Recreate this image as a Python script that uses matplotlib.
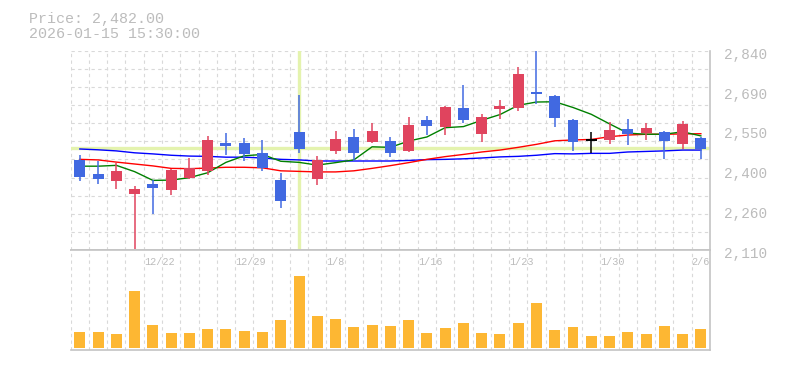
import numpy as np
import matplotlib
matplotlib.use("Agg")
import matplotlib.pyplot as plt
from matplotlib.transforms import ScaledTranslation, blended_transform_factory

# ---------------- data ----------------
dates = ["12/16", "12/17", "12/18", "12/19", "12/22", "12/23", "12/24", "12/25", "12/26",
         "12/29", "12/30", "1/5", "1/6", "1/7", "1/8", "1/9", "1/13", "1/14", "1/15",
         "1/16", "1/19", "1/20", "1/21", "1/22", "1/23", "1/26", "1/27", "1/28", "1/29",
         "1/30", "2/2", "2/3", "2/4", "2/5", "2/6"]
label_dates = ["12/22", "12/29", "1/8", "1/16", "1/23", "1/30", "2/6"]

opens = [2440, 2388, 2364, 2316, 2352, 2330, 2375, 2400, 2502, 2502, 2465, 2366, 2542,
         2371, 2474, 2524, 2507, 2509, 2474, 2586, 2561, 2630, 2536, 2628, 2631, 2689,
         2674, 2586, 2514, 2513, 2553, 2539, 2543, 2498, 2520]
highs = [2458, 2437, 2428, 2344, 2366, 2405, 2447, 2528, 2538, 2520, 2513, 2391, 2678,
         2454, 2546, 2553, 2575, 2524, 2597, 2601, 2638, 2714, 2608, 2659, 2781, 2840,
         2676, 2589, 2542, 2580, 2589, 2574, 2547, 2583, 2525]
lows = [2364, 2352, 2335, 2112, 2243, 2311, 2371, 2386, 2459, 2437, 2400, 2265, 2466,
        2349, 2463, 2437, 2503, 2452, 2470, 2531, 2532, 2575, 2507, 2591, 2620, 2644,
        2562, 2474, 2464, 2499, 2495, 2513, 2444, 2480, 2443]
closes = [2378, 2371, 2399, 2333, 2338, 2403, 2410, 2513, 2492, 2463, 2411, 2291, 2481,
          2439, 2517, 2466, 2546, 2466, 2568, 2564, 2634, 2586, 2597, 2637, 2755, 2683,
          2595, 2507, 2514, 2550, 2536, 2557, 2509, 2572, 2480]
volumes = [163, 163, 140, 563, 230, 153, 153, 193, 193, 173, 163, 273, 713, 313, 283,
           213, 230, 220, 273, 153, 203, 253, 153, 143, 253, 443, 183, 213, 123, 123,
           163, 143, 223, 143, 193]

ma_short = [2417, 2417, 2420, 2397, 2365, 2366, 2375, 2393, 2431, 2455, 2460, 2435, 2431,
            2421, 2430, 2440, 2488, 2486, 2509, 2524, 2558, 2562, 2585, 2606, 2640, 2652,
            2653, 2632, 2607, 2572, 2538, 2534, 2534, 2543, 2528]
ma_mid = [2442, 2440, 2432, 2425, 2418, 2409, 2408, 2410, 2413, 2413, 2411, 2400, 2398,
          2396, 2396, 2400, 2409, 2419, 2430, 2442, 2452, 2460, 2469, 2476, 2486, 2497,
          2510, 2513, 2515, 2525, 2531, 2534, 2534, 2535, 2536]
ma_long = [2480, 2477, 2473, 2466, 2462, 2457, 2454, 2453, 2450, 2450, 2447, 2442, 2440,
           2436, 2436, 2436, 2436, 2436, 2438, 2441, 2442, 2444, 2447, 2451, 2453, 2457,
           2463, 2462, 2464, 2464, 2469, 2471, 2473, 2476, 2476]

price_ticks = [2110, 2256, 2402, 2548, 2694, 2840]
price_tick_labels = ["2,110", "2,260", "2,400", "2,550", "2,690", "2,840"]
cursor_price = 2482
cursor_index = 12
header_lines = ["Price: 2,482.00", "2026-01-15 15:30:00"]

# ---------------- styling ----------------
W, H = 785, 370
UP = "#e0445e"
DOWN = "#4169e1"
DOJI = "#000000"
VOL = "#fdb733"
GRID = "#d9d9d9"
BORDER = "#c4c4c4"
TEXT = "#bcbcbc"
CROSS = "#e4f3ae"
MONO = ["Liberation Mono", "DejaVu Sans Mono"]

fig = plt.figure(figsize=(W / 100, H / 100), dpi=100)
L, R = 70.7, 710
PT, PB = 50.7, 250
VT, VB = 250, 350
axp = fig.add_axes([L / W, 1 - PB / H, (R - L) / W, (PB - PT) / H])
axv = fig.add_axes([L / W, 1 - VB / H, (R - L) / W, (VB - VT) / H])

n = len(closes)
x = np.arange(n)
for ax in (axp, axv):
    ax.set_xlim(-0.5, n - 0.5)
    ax.set_facecolor("white")
    for b in np.arange(n + 1) - 0.5:
        ax.axvline(b, color=GRID, lw=0.8, ls=(0, (3, 3)), zorder=0)
    ax.tick_params(axis="x", length=0, labelbottom=False)

# price panel
axp.set_ylim(2110, 2840)
for yv in np.linspace(2110, 2840, 12):
    axp.axhline(yv, color=GRID, lw=0.8, ls=(0, (3, 3)), zorder=0)
for s in ("left", "top"):
    axp.spines[s].set_visible(False)
for s in ("right", "bottom"):
    axp.spines[s].set_color(BORDER)
    axp.spines[s].set_linewidth(1.2)

# crosshair
axp.axvline(cursor_index, color=CROSS, lw=2.4, zorder=1)
axp.axhline(cursor_price, color=CROSS, lw=2.4, zorder=1)

# moving averages
axp.plot(x, ma_long, color="#0000ff", lw=1.0, zorder=2)
axp.plot(x, ma_mid, color="#ff0000", lw=1.0, zorder=2)
axp.plot(x, ma_short, color="#008000", lw=1.0, zorder=2)

# candles
o = np.array(opens); c = np.array(closes)
cols = [UP if cc > oo else (DOWN if cc < oo else DOJI) for oo, cc in zip(o, c)]
axp.vlines(x, lows, highs, colors=cols, lw=1.1, zorder=3)
body_bottom = np.minimum(o, c)
body_h = np.abs(c - o)
axp.bar(x, body_h, bottom=body_bottom, width=0.6, color=cols, zorder=4, linewidth=0)
for i in range(n):
    if c[i] == o[i]:
        axp.hlines(c[i], i - 0.3, i + 0.3, colors=DOJI, lw=1.4, zorder=4)

axp.yaxis.tick_right()
axp.set_yticks(price_ticks)
axp.set_yticklabels(price_tick_labels)
axp.tick_params(axis="y", length=0, pad=10, labelsize=10.4, labelcolor=TEXT)
off = ScaledTranslation(0, -2.5 / 100, fig.dpi_scale_trans)
for lab in axp.get_yticklabels():
    lab.set_fontfamily(MONO)
    lab.set_transform(lab.get_transform() + off)

# volume panel
axv.set_ylim(-20, 973)
axv.bar(x, volumes, width=0.6, color=VOL, zorder=3, linewidth=0)
axv.spines["left"].set_visible(False)
for s in ("right", "bottom", "top"):
    axv.spines[s].set_color(BORDER)
    axv.spines[s].set_linewidth(1.2)
axv.set_yticks([])
tr = blended_transform_factory(axv.transData, axv.transAxes)
for d in label_dates:
    i = dates.index(d)
    axv.text(i - 0.5, (VB - 262.3) / (VB - VT), d, transform=tr, ha="left", va="center",
             fontsize=7.3, color=TEXT, family=MONO, zorder=5)

# header
fig.text(29.3 / W, 1 - 23.3 / H, header_lines[0], ha="left", va="baseline",
         fontsize=10.8, color=TEXT, family=MONO)
fig.text(29.3 / W, 1 - 37.7 / H, header_lines[1], ha="left", va="baseline",
         fontsize=10.8, color=TEXT, family=MONO)

fig.savefig("out.png", dpi=100, facecolor="white")
